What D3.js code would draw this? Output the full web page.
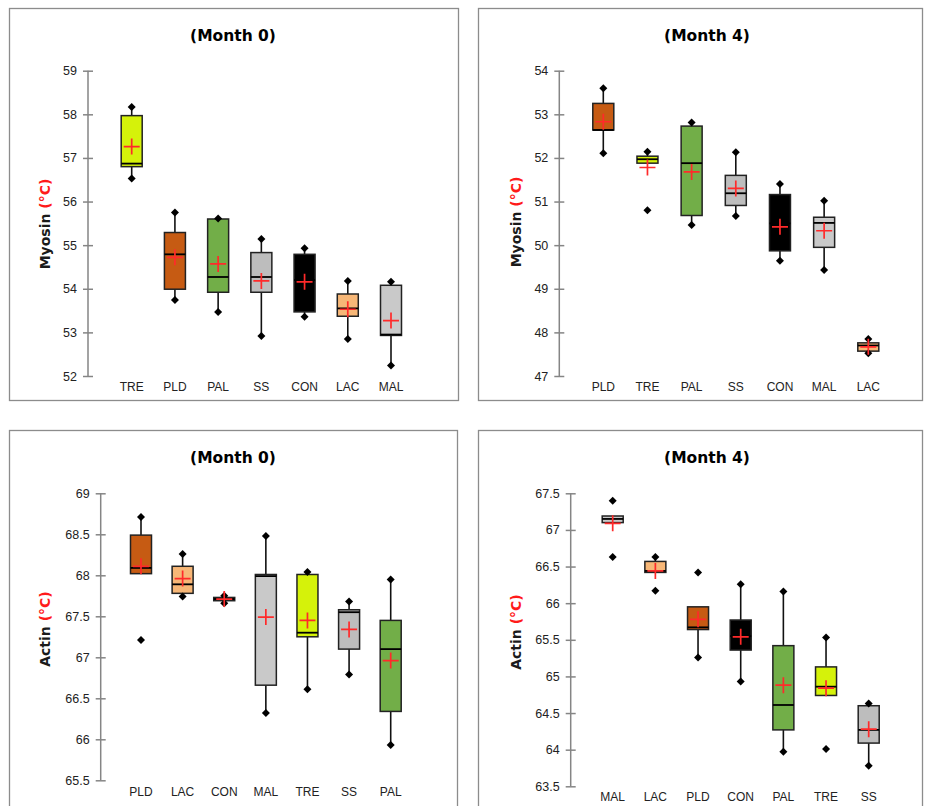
<!DOCTYPE html>
<html><head><meta charset="utf-8">
<script src="https://cdn.jsdelivr.net/npm/d3@7"></script>
<style>
html,body{margin:0;padding:0;background:#fff;}
svg{display:block;}
</style></head>
<body>
<svg id="chart" width="925" height="806"></svg>
<script>
// ---- Panel 1: Myosin, Month 0 ----
const cats1 = ["TRE","PLD","PAL","SS","CON","LAC","MAL"];
const min1  = [56.53,53.74,53.47,52.92,53.36,52.85,52.24];
const q1_1  = [56.80,53.99,53.92,53.92,53.47,53.37,52.93];
const med1  = [56.87,54.79,54.27,54.27,54.20,53.55,52.95];
const q3_1  = [57.97,55.29,55.60,54.83,54.79,53.88,54.08];
const max1  = [58.17,55.75,55.61,55.14,54.93,54.18,54.16];
const mean1 = [57.26,54.72,54.57,54.18,54.16,53.53,53.27];
const wLo1  = [56.53,53.74,53.47,52.92,53.36,52.85,52.24];
const wHi1  = [58.17,55.75,55.61,55.14,54.93,54.18,54.16];
const ticks1 = [52,53,54,55,56,57,58,59];

// ---- Panel 2: Myosin, Month 4 ----
const cats2 = ["PLD","TRE","PAL","SS","CON","MAL","LAC"];
const min2  = [52.11,50.80,50.46,50.67,49.64,49.43,47.52];
const q1_2  = [52.64,51.88,50.68,50.91,49.87,49.95,47.57];
const med2  = [52.64,51.97,51.88,51.19,50.50,50.51,47.70];
const q3_2  = [53.25,52.04,52.73,51.60,51.16,50.64,47.76];
const max2  = [53.60,52.14,52.81,52.13,51.40,51.02,47.85];
const mean2 = [52.83,51.78,51.68,51.30,50.42,50.33,47.67];
const wLo2  = [52.11,51.88,50.46,50.67,49.64,49.43,47.52];
const wHi2  = [53.60,52.14,52.81,52.13,51.40,51.02,47.85];
const ticks2 = [47,48,49,50,51,52,53,54];

// ---- Panel 3: Actin, Month 0 ----
const cats3 = ["PLD","LAC","CON","MAL","TRE","SS","PAL"];
const min3  = [67.21,67.74,67.66,66.32,66.61,66.79,65.93];
const q1_3  = [68.02,67.78,67.69,66.66,67.25,67.10,66.34];
const med3  = [68.09,67.89,67.71,67.99,67.30,67.55,67.10];
const q3_3  = [68.49,68.11,67.73,68.01,68.01,67.58,67.45];
const max3  = [68.71,68.26,67.75,68.48,68.04,67.68,67.95];
const mean3 = [68.11,67.96,67.71,67.49,67.45,67.34,66.96];
const wLo3  = [68.02,67.74,67.66,66.32,66.61,66.79,65.93];
const wHi3  = [68.71,68.26,67.75,68.48,68.04,67.68,67.95];
const ticks3 = [65.5,66,66.5,67,67.5,68,68.5,69];

// ---- Panel 4: Actin, Month 4 ----
const cats4 = ["MAL","LAC","PLD","CON","PAL","TRE","SS"];
const min4  = [66.63,66.17,65.26,64.93,63.97,64.01,63.78];
const q1_4  = [67.10,66.42,65.64,65.36,64.27,64.74,64.09];
const med4  = [67.15,66.44,65.67,65.55,64.61,64.86,64.27];
const q3_4  = [67.19,66.57,65.95,65.77,65.42,65.13,64.60];
const max4  = [67.40,66.63,66.42,66.26,66.16,65.53,64.63];
const mean4 = [67.09,66.44,65.78,65.54,64.88,64.84,64.28];
const wLo4  = [67.10,66.42,65.26,64.93,63.97,64.74,63.78];
const wHi4  = [67.19,66.63,65.95,66.26,66.16,65.53,64.63];
const ticks4 = [63.5,64,64.5,65,65.5,66,66.5,67,67.5];

const colorOf = {
  TRE: "#d5f20a", PLD: "#c65b13", PAL: "#72ae48", SS: "#bdbdbd",
  CON: "#000000", LAC: "#f7b777", MAL: "#c9c9c9"
};

const panels = [
  {title:"(Month 0)", label:"Myosin", cats:cats1, min:min1, q1:q1_1, med:med1, q3:q3_1, max:max1, mean:mean1, wLo:wLo1, wHi:wHi1, ticks:ticks1,
   frame:[9,8,449,392], axisX:88, yDom:[52,59], yRng:[376,70.7], xRng:[131.7,391], titleX:233, titleY:41, labX:45, labY:224, catY:391},
  {title:"(Month 4)", label:"Myosin", cats:cats2, min:min2, q1:q1_2, med:med2, q3:q3_2, max:max2, mean:mean2, wLo:wLo2, wHi:wHi2, ticks:ticks2,
   frame:[478,8,444,392], axisX:559.3, yDom:[47,54], yRng:[376,70.7], xRng:[603.3,868.3], titleX:707, titleY:41, labX:516, labY:222, catY:391},
  {title:"(Month 0)", label:"Actin", cats:cats3, min:min3, q1:q1_3, med:med3, q3:q3_3, max:max3, mean:mean3, wLo:wLo3, wHi:wHi3, ticks:ticks3,
   frame:[9,430,448,400], axisX:100.7, yDom:[65.5,69], yRng:[780.3,493.3], xRng:[141,390.7], titleX:233, titleY:463, labX:45, labY:629, catY:796},
  {title:"(Month 4)", label:"Actin", cats:cats4, min:min4, q1:q1_4, med:med4, q3:q3_4, max:max4, mean:mean4, wLo:wLo4, wHi:wHi4, ticks:ticks4,
   frame:[478,430,444,400], axisX:570.7, yDom:[63.5,67.5], yRng:[786.3,493.3], xRng:[612.7,868.7], titleX:707, titleY:463, labX:516, labY:632, catY:801}
];

const svg = d3.select("#chart");
const tickFont = "'Liberation Sans Narrow','Liberation Sans',Arial,sans-serif";
const boldFont = "'DejaVu Sans',Verdana,sans-serif";
const diamond = d3.symbol().type(d3.symbolSquare).size(32);

panels.forEach(p => {
  const g = svg.append("g");
  g.append("rect").attr("x",p.frame[0]+0.5).attr("y",p.frame[1]+0.5)
    .attr("width",p.frame[2]).attr("height",p.frame[3])
    .attr("fill","#fff").attr("stroke","#8c8c8c").attr("stroke-width",1.3);

  g.append("text").attr("x",p.titleX).attr("y",p.titleY)
    .attr("text-anchor","middle").attr("font-family",boldFont)
    .attr("font-weight","bold").attr("font-size",15.5).attr("fill","#000")
    .text(p.title);

  const lab = g.append("text")
    .attr("transform",`translate(${p.labX},${p.labY}) rotate(-90)`)
    .attr("text-anchor","middle").attr("dominant-baseline","central")
    .attr("font-family",boldFont).attr("font-weight","bold").attr("font-size",14);
  lab.append("tspan").attr("fill","#1a1a1a").text(p.label + " ");
  lab.append("tspan").attr("fill","#ff1a1a").text("(°C)");

  const y = d3.scaleLinear().domain(p.yDom).range(p.yRng);
  const x = d3.scalePoint().domain(p.cats).range(p.xRng);

  // y axis
  const ax = d3.axisLeft(y).tickValues(p.ticks).tickSize(5).tickPadding(7)
    .tickFormat(d => String(d));
  const axG = g.append("g").attr("transform",`translate(${p.axisX},0)`).call(ax);
  axG.select(".domain").attr("stroke","#858585").attr("stroke-width",1.5)
    .attr("d",`M0,${y(p.yDom[0])}V${y(p.yDom[1])}`);
  axG.selectAll(".tick line").attr("stroke","#858585").attr("stroke-width",1.5)
    .attr("x1",5).attr("x2",-5);
  axG.selectAll(".tick text").attr("font-family",tickFont).attr("font-size",12.5)
    .attr("fill","#222").attr("x",-11);

  // category labels
  g.selectAll(".cat").data(p.cats).join("text")
    .attr("x",d=>x(d)).attr("y",p.catY).attr("text-anchor","middle")
    .attr("font-family",tickFont).attr("font-size",12).attr("fill","#222")
    .text(d=>d);

  const bw = 21;
  const idx = d3.range(p.cats.length);
  idx.forEach(i => {
    const c = p.cats[i], cx = x(c);
    const bg = g.append("g");
    if (p.wHi[i] > p.q3[i])
      bg.append("line").attr("x1",cx).attr("x2",cx).attr("y1",y(p.q3[i])).attr("y2",y(p.wHi[i]))
        .attr("stroke","#111").attr("stroke-width",1.6);
    if (p.wLo[i] < p.q1[i])
      bg.append("line").attr("x1",cx).attr("x2",cx).attr("y1",y(p.q1[i])).attr("y2",y(p.wLo[i]))
        .attr("stroke","#111").attr("stroke-width",1.6);
    bg.append("rect").attr("x",cx-bw/2).attr("y",y(p.q3[i]))
      .attr("width",bw).attr("height",Math.max(1,y(p.q1[i])-y(p.q3[i])))
      .attr("fill",colorOf[c]).attr("stroke","#222").attr("stroke-width",1.5);
    bg.append("line").attr("x1",cx-bw/2).attr("x2",cx+bw/2)
      .attr("y1",y(p.med[i])).attr("y2",y(p.med[i]))
      .attr("stroke","#000").attr("stroke-width",1.8);
    [p.min[i], p.max[i]].forEach(v => {
      bg.append("path").attr("d",diamond())
        .attr("transform",`translate(${cx},${y(v)}) rotate(45)`)
        .attr("fill","#000");
    });
    const my = y(p.mean[i]);
    bg.append("path").attr("d",`M${cx-8},${my}H${cx+8}M${cx},${my-8}V${my+8}`)
      .attr("stroke","#ff2a2a").attr("stroke-width",1.7).attr("fill","none");
  });
});
</script>
</body></html>
